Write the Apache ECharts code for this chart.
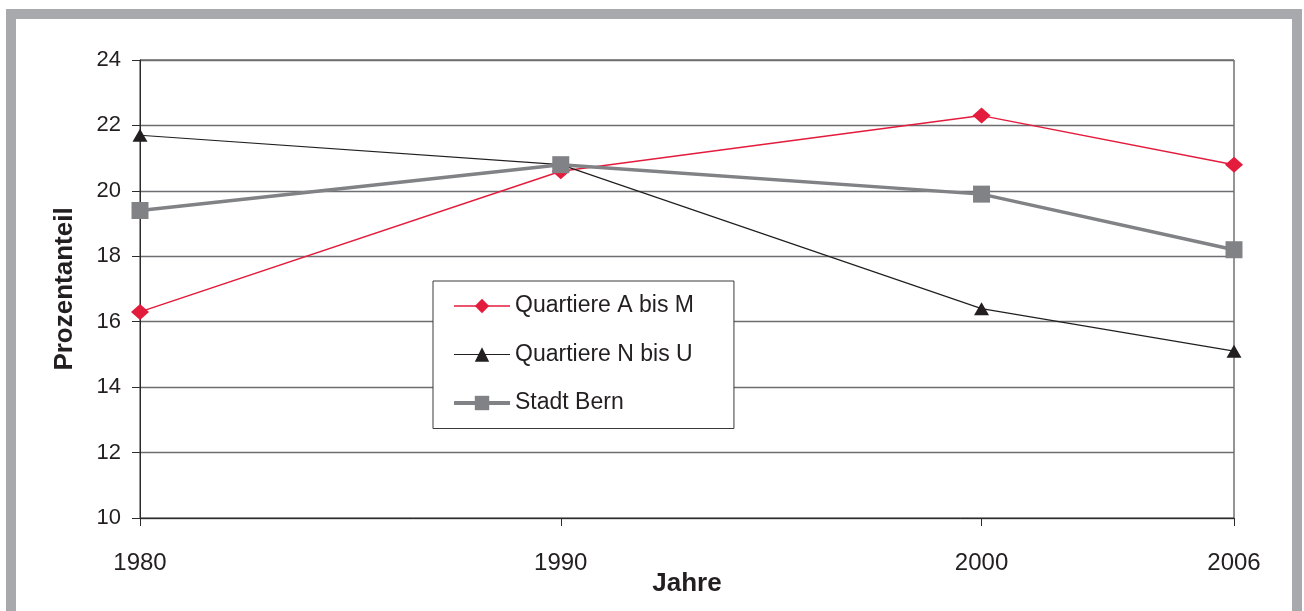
<!DOCTYPE html>
<html>
<head>
<meta charset="utf-8">
<script src="https://cdn.jsdelivr.net/npm/echarts@6/dist/echarts.min.js"></script>
<style>
  html, body { margin: 0; padding: 0; background: #fff; }
  #frame {
    position: absolute; left: 6px; top: 9px;
    width: 1276px; height: 602px;
    border: 10px solid #a7a9ac; border-bottom: none;
    background: #fff;
  }
  #main { position: absolute; left: 0; top: 0; width: 1304px; height: 611px; }
</style>
</head>
<body>
<div id="frame"></div>
<div id="main"></div>
<script>
// Jahre (x-Achse, proportional)
const years = [1980, 1990, 2000, 2006];
const yTicks = [10, 12, 14, 16, 18, 20, 22, 24];

// Prozentanteile
const quartiereAM = [16.3, 20.6, 22.3, 20.8];
const quartiereNU = [21.7, 20.8, 16.4, 15.1];
const stadtBern = [19.4, 20.8, 19.9, 18.2];

const font = "'Liberation Sans', Arial, sans-serif";
const textColor = "#231f20";
const red = "#e31b3c";
const black = "#231f20";
const gray = "#808285";

function pairs(vals) {
  return years.map((y, i) => [y, vals[i]]);
}

const chart = echarts.init(document.getElementById("main"), null, { renderer: "canvas" });

const option = {
  backgroundColor: "transparent",
  animation: false,
  textStyle: { fontFamily: font, color: textColor },
  grid: {
    left: 140,
    right: 70,
    top: 60,
    bottom: 93,
    show: true,
    borderColor: "#2b2b2b",
    borderWidth: 1,
    containLabel: false,
  },
  legend: {
    left: 433,
    top: 281,
    orient: "vertical",
    backgroundColor: "#fff",
    borderColor: "#3a3a3a",
    borderWidth: 1,
    borderRadius: 0,
    padding: [13.5, 40, 14, 19],
    itemWidth: 56,
    itemHeight: 18,
    itemGap: 25.5,
    textStyle: { fontFamily: font, fontSize: 23, color: textColor },
    data: [
      { name: "Quartiere A bis M", lineStyle: { width: 1.5 } },
      { name: "Quartiere N bis U", lineStyle: { width: 1.2 } },
      { name: "Stadt Bern", lineStyle: { width: 4 } },
    ],
  },
  xAxis: {
    type: "value",
    min: 1980,
    max: 2006,
    name: "Jahre",
    nameLocation: "middle",
    nameGap: 53,
    nameMoveOverlap: false,
    nameTextStyle: { fontFamily: font, fontSize: 26, fontWeight: "bold", color: textColor },
    axisLine: { show: true, lineStyle: { color: "#2b2b2b", width: 1 } },
    axisTick: {
      show: true,
      customValues: years,
      length: 8,
      lineStyle: { color: "#2b2b2b", width: 1 },
    },
    axisLabel: {
      customValues: years,
      margin: 33,
      fontFamily: font,
      fontSize: 24,
      color: textColor,
      formatter: (v) => String(v),
    },
    splitLine: { show: false },
  },
  yAxis: {
    type: "value",
    min: 10,
    max: 24,
    interval: 2,
    name: "Prozentanteil",
    nameLocation: "middle",
    nameGap: 62,
    nameMoveOverlap: false,
    nameTextStyle: { fontFamily: font, fontSize: 26, fontWeight: "bold", color: textColor },
    axisLine: { show: true, lineStyle: { color: "#2b2b2b", width: 1 } },
    axisTick: { show: true, length: 8, lineStyle: { color: "#2b2b2b", width: 1 } },
    axisLabel: {
      margin: 19,
      padding: [5, 0, 0, 0],
      fontFamily: font,
      fontSize: 22,
      color: textColor,
      formatter: (v) => (yTicks.indexOf(v) !== -1 ? String(v) : ""),
    },
    splitLine: { show: true, lineStyle: { color: "#6d6e71", width: 1.3 } },
  },
  series: [
    {
      name: "Quartiere A bis M",
      type: "line",
      data: pairs(quartiereAM),
      symbol: "diamond",
      symbolSize: [18, 16],
      lineStyle: { color: red, width: 1.5 },
      itemStyle: { color: red },
      z: 2,
    },
    {
      name: "Quartiere N bis U",
      type: "line",
      data: pairs(quartiereNU),
      symbol: "triangle",
      symbolSize: [15, 13],
      lineStyle: { color: black, width: 1.2 },
      itemStyle: { color: black },
      z: 3,
    },
    {
      name: "Stadt Bern",
      type: "line",
      data: pairs(stadtBern),
      symbol: "rect",
      symbolSize: 17,
      lineStyle: { color: gray, width: 3.5 },
      itemStyle: { color: gray },
      z: 4,
    },
  ],
};

chart.setOption(option);
</script>
</body>
</html>
